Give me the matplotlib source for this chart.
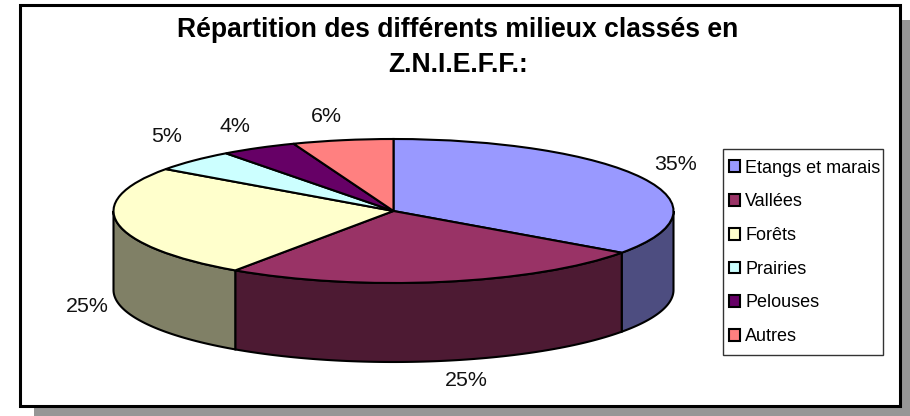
"""Pie chart with a fake 3D wall, Z.N.I.E.F.F. habitats."""

import numpy as np
import matplotlib
matplotlib.use("Agg")
import matplotlib.pyplot as plt
from matplotlib.patches import Rectangle

categories = ["Etangs et marais", "Vallées", "Forêts", "Prairies", "Pelouses", "Autres"]
# slice sizes, they round to the printed labels
values = [34.8, 24.7, 25.3, 4.9, 4.4, 5.8]
top_colors = ["#9999FF", "#993366", "#FFFFCC", "#CCFFFF", "#660066", "#FF8080"]
wall_colors = ["#4D4D80", "#4D1A33", "#808066", "#668080", "#330033", "#804040"]
title_lines = "Répartition des différents milieux classés en\nZ.N.I.E.F.F.:"

plt.rcParams["font.family"] = ["Liberation Sans", "DejaVu Sans"]

W, H = 910, 416
fig = plt.figure(figsize=(W / 100, H / 100), dpi=100, facecolor="white")

# background axes in pixel coordinates, for the frame, title and labels
bg = fig.add_axes([0, 0, 1, 1])
bg.set_xlim(0, W)
bg.set_ylim(H, 0)
bg.axis("off")
bg.add_patch(Rectangle((34, 20), 880, 410, facecolor="#969696", edgecolor="none", zorder=1))
bg.add_patch(Rectangle((20, 5), 879.5, 400.5, facecolor="white", edgecolor="black", linewidth=2.2, zorder=2))
bg.text(458, 47.5, title_lines, ha="center", va="center", fontsize=19.1, fontweight="bold",
        linespacing=1.47, color="black", zorder=3)

# pie axes cover exactly the top ellipse, so data units are the unit circle
cx, cy, rx, ry, depth = 393.5, 211, 280, 72, 79
ax = fig.add_axes([(cx - rx) / W, 1 - (cy + ry) / H, 2 * rx / W, 2 * ry / H], zorder=2)
wedges, _ = ax.pie(values, colors=top_colors, startangle=90, counterclock=False, radius=1,
                   wedgeprops={"edgecolor": "black", "linewidth": 1.5})
ax.set_aspect("auto")
ax.set_xlim(-1, 1)
ax.set_ylim(-1, 1)
ax.patch.set_alpha(0)

# side wall: only the front half of the rim (90 to 270 deg clockwise from the top)
d = depth / ry
edges = np.cumsum([0] + values) / sum(values) * 360
for start, end, col in zip(edges[:-1], edges[1:], wall_colors):
    a0, a1 = max(start, 90), min(end, 270)
    if a1 <= a0:
        continue
    t = np.radians(np.linspace(a0, a1, 80))
    x = np.sin(t)
    y = np.cos(t)
    ax.fill(np.r_[x, x[::-1]], np.r_[y, y[::-1] - d], facecolor=col, edgecolor="black",
            linewidth=1.5, clip_on=False, zorder=0)

# percent labels
label_pos = [(676, 165), (466, 380), (87, 306), (167, 137), (235, 126), (326, 117)]
for v, (px, py) in zip(values, label_pos):
    bg.text(px, py, f"{v:.0f}%", ha="center", va="center", fontsize=15.4, color="#111111", zorder=3)

# legend box is drawn apart, its width does not follow the legend padding
bg.add_patch(Rectangle((723, 149), 160, 206, facecolor="white", edgecolor="#333333", linewidth=1, zorder=3))
leg = bg.legend(wedges, categories, loc="upper left", bbox_to_anchor=(718.4, 149),
                bbox_transform=bg.transData, fontsize=13, frameon=False, borderaxespad=0,
                borderpad=0.59, labelspacing=0.925, handlelength=0.62, handleheight=0.62,
                handletextpad=0.28)
leg.set_zorder(4)
for h in leg.legend_handles:
    h.set_linewidth(1.5)
    h.set_edgecolor("black")

fig.savefig("out.png", dpi=100)
